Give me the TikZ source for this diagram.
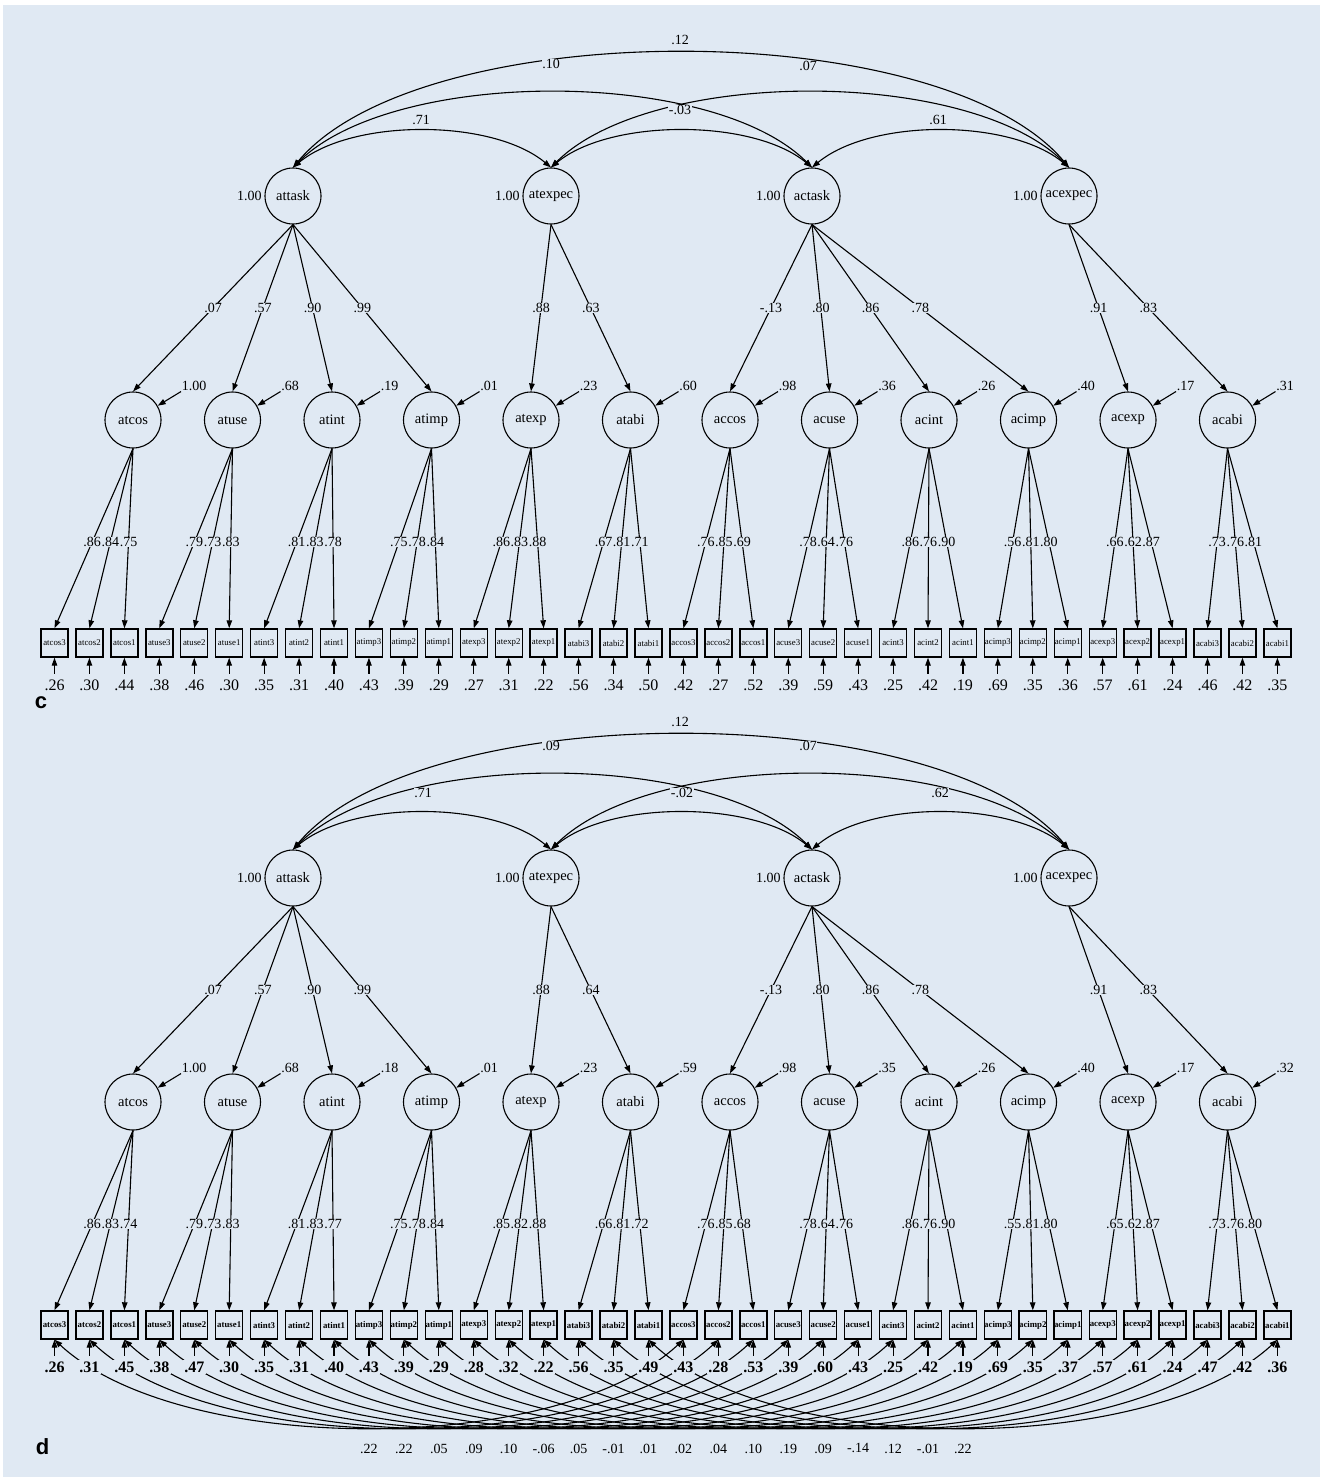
\documentclass[tikz,border=0pt]{standalone}
\usepackage{fontspec}
\setmainfont{Liberation Serif}
\newfontfamily\panelfont{Liberation Sans}
\usetikzlibrary{arrows.meta,calc}
\definecolor{bgc}{HTML}{E0E9F3}
\pgfdeclarelayer{bgrect}
\pgfdeclarelayer{back}
\pgfsetlayers{bgrect,back,main}
\tikzset{
  lat/.style={circle,draw,line width=1.1pt,minimum size=56pt,inner sep=0pt,font=\fontsize{14.5}{15}\selectfont},
  indc/.style={rectangle,draw,line width=1.4pt,minimum width=27pt,minimum height=28pt,inner sep=0pt,font=\fontsize{8.8}{9}\selectfont},
  indd/.style={indc,font=\fontsize{8.8}{9}\selectfont\bfseries},
  lbl/.style={fill=bgc,inner sep=0.6pt,font=\fontsize{14}{14}\selectfont},
  elblc/.style={fill=bgc,inner sep=1.5pt,font=\fontsize{16}{16}\selectfont},
  elbld/.style={elblc,font=\fontsize{16}{16}\selectfont\bfseries},
  arr/.style={-{Triangle[length=8pt,width=5.5pt]},line width=1.1pt},
  dbl/.style={{Triangle[length=8pt,width=5.5pt]}-{Triangle[length=8pt,width=5.5pt]},line width=1.1pt},
  paneltag/.style={font=\panelfont\bfseries\fontsize{22}{22}\selectfont},
}
\newcommand\drawpanel[3]{%
  \foreach \tn/\tx in {attask/293,atexpec/551,actask/812,acexpec/1069}{
    \node[lat] (#1\tn) at (\tx,196+#2) {\tn};
    \node[lbl,anchor=east,xshift=-2pt] (#1\tn-v) at (#1\tn.west) {1.00};
  }
  \foreach \fn/\fp/\flo/\fev/\qla/\qlb/\qlc/\qea/\qeb/\qec [count=\kk from 0] in {#3}{
    \node[lat] (#1\fn) at ({133+99.5*\kk},420+#2) {\fn};
    \draw[arr] (#1\fp.south) -- node[lbl]{\flo} (#1\fn.north);
    \node[lbl,anchor=west] (#1\fn-e) at ({181+99.5*\kk},386+#2) {\fev};
    \draw[arr] (#1\fn-e.south west) -- (#1\fn.30);
    \foreach \im/\ilv/\iev [count=\rr from 0] in {3/\qla/\qea,2/\qlb/\qeb,1/\qlc/\qec}{
      \node[ind#1] (#1\fn\im) at ({54.5+34.94*(3*\kk+\rr)},643+#2) {\fn\im};
      \draw[arr] (#1\fn.south) -- node[lbl,pos=.52]{\ilv} (#1\fn\im.north);
      \node[elbl#1] (#1\fn\im-e) at ({54.5+34.94*(3*\kk+\rr)},685+#2) {\iev};
      \draw[arr,shorten <=4pt] (#1\fn\im-e.north) -- (#1\fn\im.south);
    }
  }
}
\newcommand\covarc[4]{\draw[dbl] (#1.north) .. controls ($(#1.north)+(#3,-#4)$) and ($(#2.north)+(-#3,-#4)$) .. (#2.north);}
\newcommand\toparcs[1]{%
  \begin{pgfonlayer}{back}
  \covarc{#1attask}{#1atexpec}{59}{49}
  \covarc{#1atexpec}{#1actask}{59}{49}
  \covarc{#1actask}{#1acexpec}{59}{49}
  \covarc{#1attask}{#1actask}{100}{100}
  \covarc{#1atexpec}{#1acexpec}{100}{100}
  \covarc{#1attask}{#1acexpec}{128}{153}
  \end{pgfonlayer}
}
\begin{document}
\begin{tikzpicture}[x=1pt,y=-1pt]
\useasboundingbox (0,0) rectangle (1321,1477);
\begin{pgfonlayer}{bgrect}
\fill[white] (0,0) rectangle (1321,1477);
\fill[bgc] (3,5) rectangle (1320,1477);
\end{pgfonlayer}

% ---------------- panel c ----------------
\drawpanel{c}{0}{atcos/attask/.07/1.00/.86/.84/.75/.26/.30/.44,
 atuse/attask/.57/.68/.79/.73/.83/.38/.46/.30,
 atint/attask/.90/.19/.81/.83/.78/.35/.31/.40,
 atimp/attask/.99/.01/.75/.78/.84/.43/.39/.29,
 atexp/atexpec/.88/.23/.86/.83/.88/.27/.31/.22,
 atabi/atexpec/.63/.60/.67/.81/.71/.56/.34/.50,
 accos/actask/-.13/.98/.76/.85/.69/.42/.27/.52,
 acuse/actask/.80/.36/.78/.64/.76/.39/.59/.43,
 acint/actask/.86/.26/.86/.76/.90/.25/.42/.19,
 acimp/actask/.78/.40/.56/.81/.80/.69/.35/.36,
 acexp/acexpec/.91/.17/.66/.62/.87/.57/.61/.24,
 acabi/acexpec/.83/.31/.73/.76/.81/.46/.42/.35}
\toparcs{c}
\node[lbl] (c12) at (680,40) {.12};
\node[lbl] (c10) at (551,64) {.10};
\node[lbl] (c07) at (808,66) {.07};
\node[lbl] (c71) at (421,120) {.71};
\node[lbl] (c03) at (680,110) {-.03};
\node[lbl] (c61) at (938,120) {.61};
\node[paneltag] (tagc) at (41,703) {c};

% ---------------- panel d ----------------
\drawpanel{d}{682}{atcos/attask/.07/1.00/.86/.83/.74/.26/.31/.45,
 atuse/attask/.57/.68/.79/.73/.83/.38/.47/.30,
 atint/attask/.90/.18/.81/.83/.77/.35/.31/.40,
 atimp/attask/.99/.01/.75/.78/.84/.43/.39/.29,
 atexp/atexpec/.88/.23/.85/.82/.88/.28/.32/.22,
 atabi/atexpec/.64/.59/.66/.81/.72/.56/.35/.49,
 accos/actask/-.13/.98/.76/.85/.68/.43/.28/.53,
 acuse/actask/.80/.35/.78/.64/.76/.39/.60/.43,
 acint/actask/.86/.26/.86/.76/.90/.25/.42/.19,
 acimp/actask/.78/.40/.55/.81/.80/.69/.35/.37,
 acexp/acexpec/.91/.17/.65/.62/.87/.57/.61/.24,
 acabi/acexpec/.83/.32/.73/.76/.80/.47/.42/.36}
\toparcs{d}
\node[lbl] (d12) at (680,722) {.12};
\node[lbl] (d09) at (551,746) {.09};
\node[lbl] (d07) at (808,746) {.07};
\node[lbl] (d71) at (423,793) {.71};
\node[lbl] (d02) at (682,793) {-.02};
\node[lbl] (d62) at (940,793) {.62};
\node[paneltag] (tagd) at (42.5,1447) {d};

\begin{pgfonlayer}{back}
\foreach \ia/\ib/\cv in {atcos3/accos3/.22,atcos2/accos2/.22,atcos1/accos1/.05,
  atuse3/acuse3/.09,atuse2/acuse2/.10,atuse1/acuse1/-.06,
  atint3/acint3/.05,atint2/acint2/-.01,atint1/acint1/.01,
  atimp3/acimp3/.02,atimp2/acimp2/.04,atimp1/acimp1/.10,
  atexp3/acexp3/.19,atexp2/acexp2/.09,atexp1/acexp1/-.14,
  atabi3/acabi3/.12,atabi2/acabi2/-.01,atabi1/acabi1/.22}{
  \draw[dbl] (d\ia.south) .. controls ($(d\ia.south)+(126,117)$) and ($(d\ib.south)+(-126,117)$) .. node[lbl,pos=.5,yshift=-21pt] (dcov-\ia) {\cv} (d\ib.south);
}
\end{pgfonlayer}
\end{tikzpicture}
\end{document}
